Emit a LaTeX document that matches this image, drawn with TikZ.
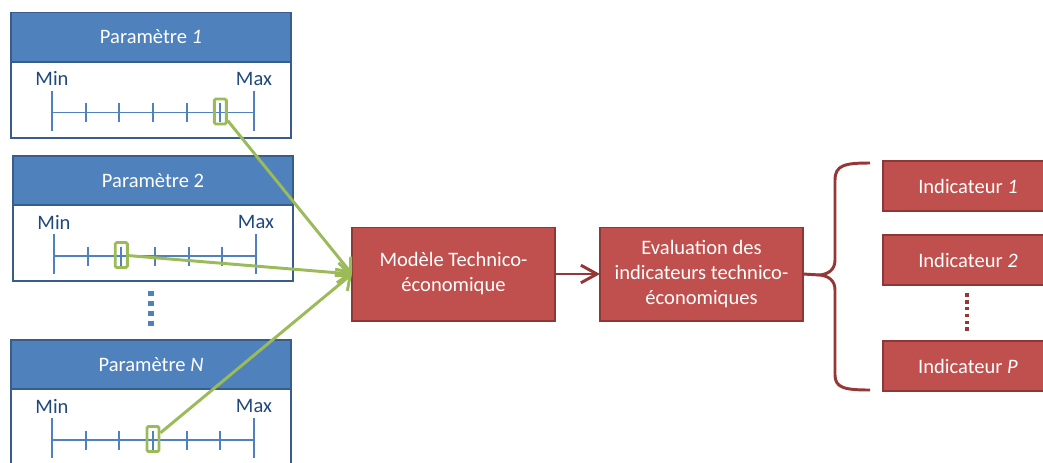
\documentclass[tikz,border=0pt]{standalone}
\usepackage{fontspec}
\setmainfont{Carlito}
\usepackage{xcolor}
\usetikzlibrary{arrows.meta, positioning, calc}
\definecolor{headblue}{HTML}{4F81BD}
\definecolor{edgeblue}{HTML}{385D8A}
\definecolor{textblue}{HTML}{1F497D}
\definecolor{boxred}{HTML}{C0504D}
\definecolor{edgered}{HTML}{8C3836}
\definecolor{bracered}{HTML}{953735}
\definecolor{markgreen}{HTML}{9BBB59}
\tikzset{
  base/.style={font=\fontsize{14.6}{17.8}\selectfont, inner sep=0pt, outer sep=0pt},
  paramhead/.style={base, rectangle, draw=edgeblue, line width=1.4pt, fill=headblue, text=white, minimum width=7cm, minimum height=1.225cm},
  parambody/.style={base, rectangle, draw=edgeblue, line width=1.4pt, fill=white, minimum width=7cm, minimum height=1.9cm},
  redbox/.style={base, rectangle, draw=edgered, line width=1.4pt, fill=boxred, text=white, align=center, minimum width=5.075cm, minimum height=2.325cm},
  indic/.style={base, rectangle, draw=edgered, line width=1.4pt, fill=boxred, text=white, minimum width=4.25cm, minimum height=1.25cm},
  minmax/.style={base, text=textblue},
  axisline/.style={draw=headblue, line width=1.4pt},
  markbox/.style={draw=markgreen, line width=2pt, rounded corners=1pt, minimum width=0.3cm, minimum height=0.625cm, inner sep=0pt},
  greenarrow/.style={-{Straight Barb[length=3mm, width=5mm]}, draw=markgreen, line width=2.1pt},
  redarrow/.style={-{Straight Barb[length=4mm, width=4.4mm]}, draw=bracered, line width=2.1pt},
  bracestyle/.style={draw=bracered, line width=2.1pt},
}

\begin{document}
\begin{tikzpicture}[x=0.025cm, y=-0.025cm]
  \useasboundingbox (0,0) rectangle (1043,462);
  \def\tick{33.67}

  % Model and evaluation blocks
  \node[redbox] (modele) at (453.5,274) {Modèle Technico-\\économique};
  \node[redbox] (eval) at (701.5,274) {Evaluation des\\indicateurs technico-\\économiques};
  \draw[redarrow] (modele.east) -- (eval.west);

  % Parameter panels
  \foreach \i/\xo/\yo/\lab/\m in {1/11/12.5/\textit{1}/5, 2/13/156/2/2, N/11/340/\textit{N}/3}{
    \node[paramhead, anchor=north west] (head\i) at (\xo,\yo) {Paramètre \lab};
    \node[parambody, anchor=north] (body\i) at (head\i.south) {};
    \coordinate (axis\i) at (\xo+41,\yo+100);
    \draw[axisline] (axis\i) -- ++(6*\tick,0);
    \draw[axisline] ($(axis\i)+(0,-22)$) -- ++(0,40);
    \draw[axisline] ($(axis\i)+(6*\tick,-22)$) -- ++(0,40);
    \foreach \k in {1,...,5}
      \draw[axisline] ($(axis\i)+(\k*\tick,-9.5)$) -- ++(0,19);
    \node[minmax] (min\i) at ($(axis\i)+(0,-34)$) {Min};
    \node[minmax] (max\i) at ($(axis\i)+(6*\tick,-34)$) {Max};
    \node[markbox] (mark\i) at ($(axis\i)+(\m*\tick,-1)$) {};
  }

  % Links from chosen values to the model
  \foreach \i in {1,2,N}
    \draw[greenarrow] (mark\i) -- (modele.west);

  % Dots between panels
  \draw[draw=headblue, line width=3.56pt, dash pattern=on 3.56pt off 3.56pt] (151,290.5) -- (151,325.5);

  % Indicators
  \node[indic] (ind1) at (968,186) {Indicateur \textit{1}};
  \node[indic] (ind2) at (968,260) {Indicateur \textit{2}};
  \node[indic] (indP) at (968,366) {Indicateur \textit{P}};
  \draw[draw=bracered, line width=2.5pt, dash pattern=on 2.5pt off 2.35pt] (967,293.25) -- (967,330.75);

  % Brace
  \coordinate (tip) at (820,275);
  \draw[bracestyle] (870,163) .. controls (845,163) and (835,165) .. (835,180) -- (835,260)
    .. controls (835,270) and (828,274) .. (tip)
    .. controls (828,276) and (835,280) .. (835,290) -- (835,375)
    .. controls (835,388) and (845,390) .. (870,390);
  \draw[bracestyle] (eval.east) -- (tip);
\end{tikzpicture}
\end{document}
